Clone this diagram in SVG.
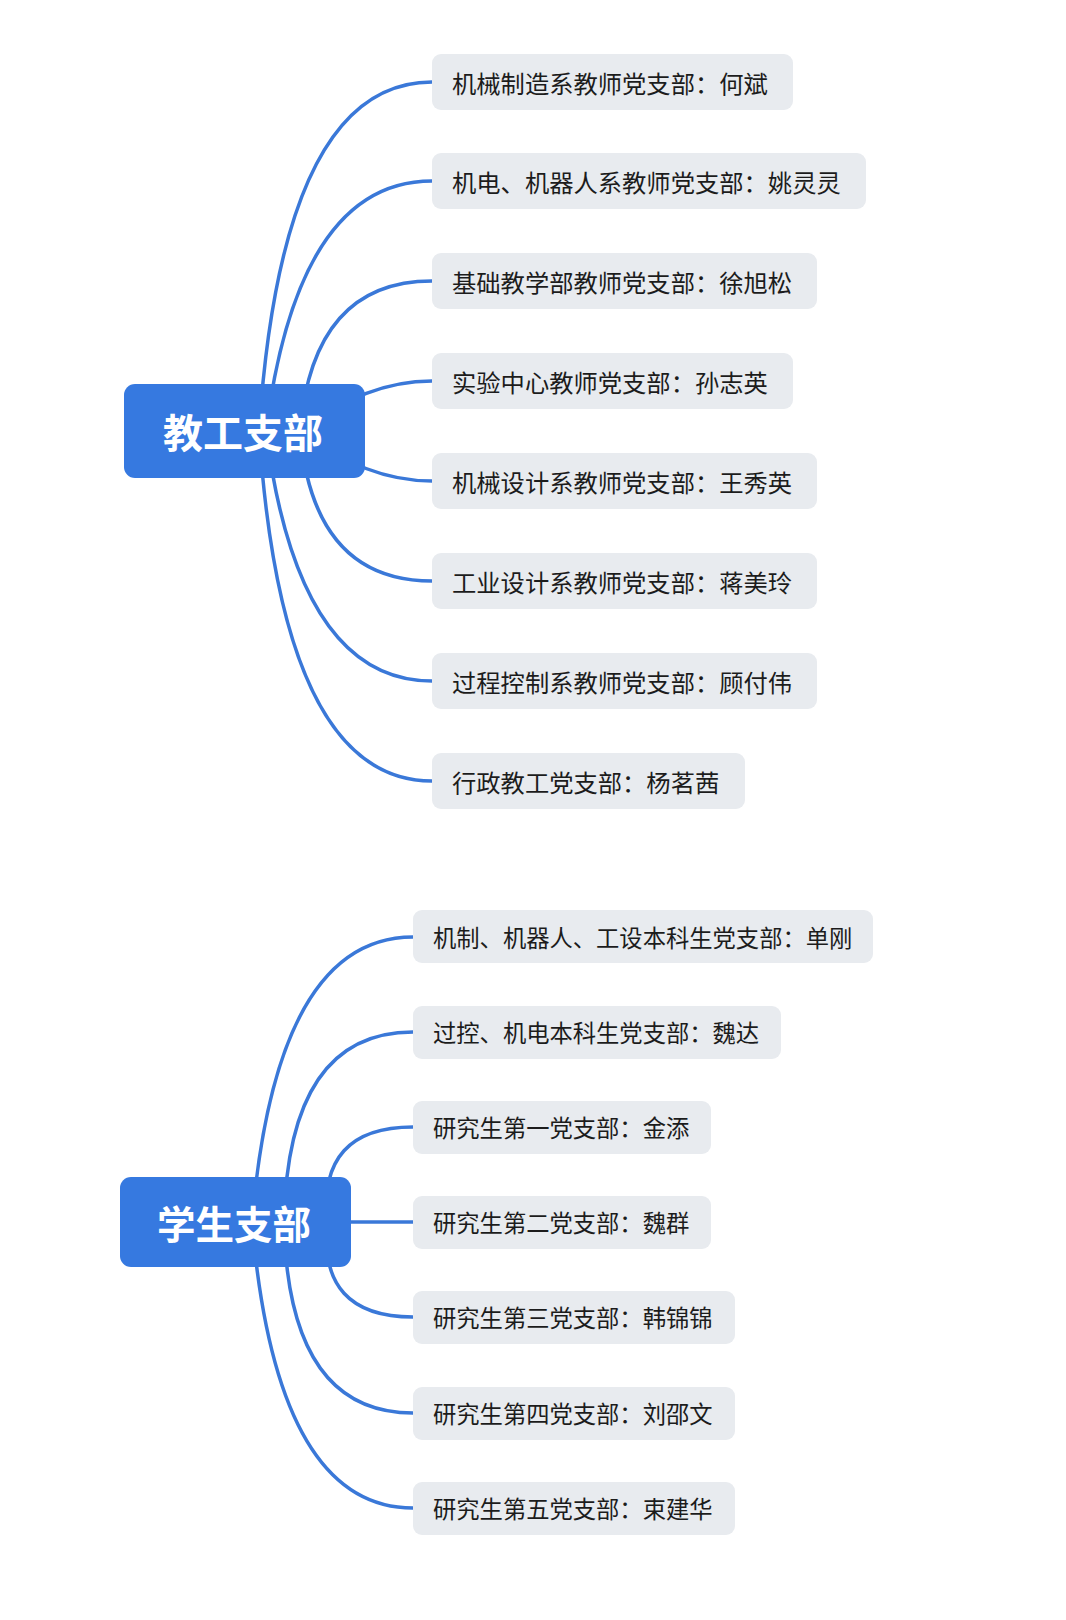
<svg xmlns="http://www.w3.org/2000/svg" width="1066" height="1620" viewBox="0 0 1066 1620">
<style>
.bg{fill:#ffffff}
.link{fill:none;stroke:#3a78d8;stroke-width:3.5;stroke-linecap:butt}
.root{fill:#3679e0}
.rootText{fill:#ffffff;font-family:"Noto Sans CJK SC","Noto Sans",sans-serif;font-weight:bold;text-anchor:middle;dominant-baseline:central}
.box{fill:#e8ebef}
.t1{fill:#1c1c1c;font-family:"Noto Sans CJK SC","Noto Sans",sans-serif;font-size:24.3px;dominant-baseline:central}
.t2{fill:#1c1c1c;font-family:"Noto Sans CJK SC","Noto Sans",sans-serif;font-size:23.3px;dominant-baseline:central}
</style>
<rect class="bg" x="0" y="0" width="1066" height="1620"/>
<g id="connectors">
  <path class="link" d="M 259 431 Q 282 82 432 82"/>
  <path class="link" d="M 266 431 Q 298 181 432 181"/>
  <path class="link" d="M 300 431 Q 313 281 432 281"/>
  <path class="link" d="M 302 431 Q 365 381 432 381"/>
  <path class="link" d="M 302 431 Q 365 481 432 481"/>
  <path class="link" d="M 300 431 Q 313 581 432 581"/>
  <path class="link" d="M 266 431 Q 298 681 432 681"/>
  <path class="link" d="M 259 431 Q 282 781 432 781"/>
  <path class="link" d="M 252 1222 Q 276 937 413 937"/>
  <path class="link" d="M 284 1222 Q 288 1032 413 1032"/>
  <path class="link" d="M 327 1222 Q 318 1127 413 1127"/>
  <path class="link" d="M 340 1222 L 413 1222"/>
  <path class="link" d="M 327 1222 Q 318 1317 413 1317"/>
  <path class="link" d="M 284 1222 Q 288 1413 413 1413"/>
  <path class="link" d="M 252 1222 Q 276 1508 413 1508"/>
</g>
<g id="root-jiaogong">
  <rect class="root" x="124" y="384" width="241" height="94" rx="11"/>
  <text class="rootText" x="243" y="431" font-size="40">教工支部</text>
</g>
<g id="n1"><rect class="box" x="432" y="54" width="361" height="56" rx="9"/><text class="t1" x="452" y="82">机械制造系教师党支部：何斌</text></g>
<g id="n2"><rect class="box" x="432" y="153" width="434" height="56" rx="9"/><text class="t1" x="452" y="181">机电、机器人系教师党支部：姚灵灵</text></g>
<g id="n3"><rect class="box" x="432" y="253" width="385" height="56" rx="9"/><text class="t1" x="452" y="281">基础教学部教师党支部：徐旭松</text></g>
<g id="n4"><rect class="box" x="432" y="353" width="361" height="56" rx="9"/><text class="t1" x="452" y="381">实验中心教师党支部：孙志英</text></g>
<g id="n5"><rect class="box" x="432" y="453" width="385" height="56" rx="9"/><text class="t1" x="452" y="481">机械设计系教师党支部：王秀英</text></g>
<g id="n6"><rect class="box" x="432" y="553" width="385" height="56" rx="9"/><text class="t1" x="452" y="581">工业设计系教师党支部：蒋美玲</text></g>
<g id="n7"><rect class="box" x="432" y="653" width="385" height="56" rx="9"/><text class="t1" x="452" y="681">过程控制系教师党支部：顾付伟</text></g>
<g id="n8"><rect class="box" x="432" y="753" width="313" height="56" rx="9"/><text class="t1" x="452" y="781">行政教工党支部：杨茗茜</text></g>
<g id="root-xuesheng">
  <rect class="root" x="120" y="1177" width="231" height="90" rx="11"/>
  <text class="rootText" x="234" y="1222" font-size="38.5">学生支部</text>
</g>
<g id="s1"><rect class="box" x="413" y="910" width="460" height="53" rx="9"/><text class="t2" x="433" y="937">机制、机器人、工设本科生党支部：单刚</text></g>
<g id="s2"><rect class="box" x="413" y="1006" width="368" height="53" rx="9"/><text class="t2" x="433" y="1032">过控、机电本科生党支部：魏达</text></g>
<g id="s3"><rect class="box" x="413" y="1101" width="298" height="53" rx="9"/><text class="t2" x="433" y="1127">研究生第一党支部：金添</text></g>
<g id="s4"><rect class="box" x="413" y="1196" width="298" height="53" rx="9"/><text class="t2" x="433" y="1222">研究生第二党支部：魏群</text></g>
<g id="s5"><rect class="box" x="413" y="1291" width="322" height="53" rx="9"/><text class="t2" x="433" y="1317">研究生第三党支部：韩锦锦</text></g>
<g id="s6"><rect class="box" x="413" y="1387" width="322" height="53" rx="9"/><text class="t2" x="433" y="1413">研究生第四党支部：刘邵文</text></g>
<g id="s7"><rect class="box" x="413" y="1482" width="322" height="53" rx="9"/><text class="t2" x="433" y="1508">研究生第五党支部：束建华</text></g>
</svg>
